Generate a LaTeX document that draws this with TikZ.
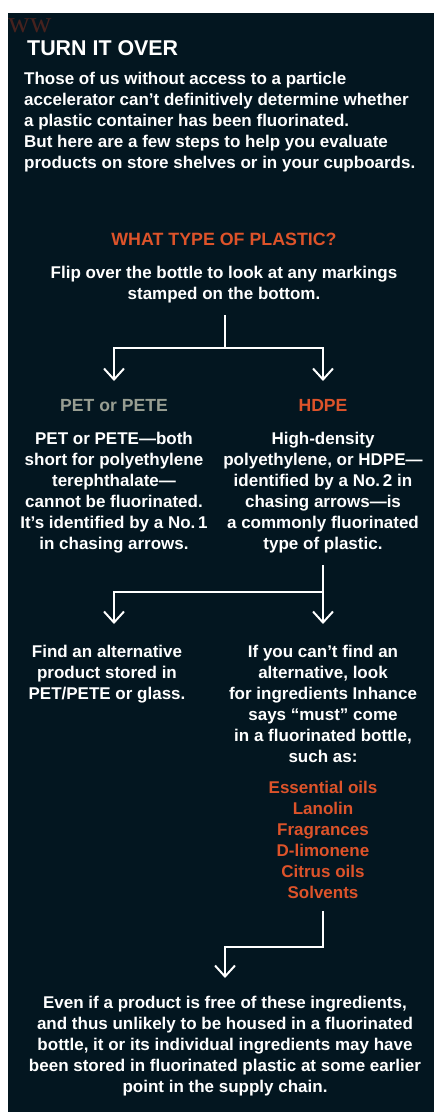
\documentclass[tikz,border=0pt]{standalone}
\usepackage{fontspec}
\setmainfont{Liberation Sans}
\newfontfamily\markfont{Liberation Serif}
\usetikzlibrary{arrows.meta,positioning}
\definecolor{bgnavy}{RGB}{3,22,32}
\definecolor{rust}{RGB}{221,83,42}
\definecolor{sage}{RGB}{152,158,146}
\definecolor{markbrown}{RGB}{70,34,30}

\begin{document}
\begin{tikzpicture}[x=1pt, y=-1pt,
    body/.style={text=white, align=center, inner sep=0pt, anchor=north, font=\bfseries\fontsize{17}{21}\selectfont},
    lead/.style={body, align=left, anchor=north west},
    head/.style={body, font=\bfseries\fontsize{17.8}{21}\selectfont},
    big/.style={body, font=\bfseries\fontsize{17.6}{21}\selectfont},
    wire/.style={draw=white, line width=2pt},
    flow/.style={wire, -{Straight Barb[length=11pt, width=20pt]}}
  ]
    \fill[white] (0,0) rectangle (434,1115);
    \fill[bgnavy] (8,13) rectangle (434,1112);
    \useasboundingbox (0,0) rectangle (434,1115);

    \node[anchor=base west, inner sep=0pt, text=markbrown, font=\markfont\fontsize{30}{30}\selectfont] (mark) at (8,33) {ww};
    \node[body, font=\bfseries\fontsize{21.4}{24}\selectfont, anchor=north west] (title) at (27,40) {TURN IT OVER};
    \node[lead] (intro) at (24,72) {Those of us without access to a particle\\accelerator can’t definitively determine whether\\a plastic container has been fluorinated.\\But here are a few steps to help you evaluate\\products on store shelves or in your cupboards.};

    \node[head, text=rust] (question) at (224,233) {WHAT TYPE OF PLASTIC?};
    \node[body] (flip) at (224,266) {Flip over the bottle to look at any markings\\stamped on the bottom.};

    \node[big, text=sage] (pet) at (114,399) {PET or PETE};
    \node[big, text=rust] (hdpe) at (323,399) {HDPE};
    \node[body] (pettext) at (114,432) {PET or PETE—both\\short for polyethylene\\terephthalate—\\cannot be fluorinated.\\It’s identified by a No.\,1\\in chasing arrows.};
    \node[body] (hdpetext) at (323,432) {High-density\\polyethylene, or HDPE—\\identified by a No.\,2 in\\chasing arrows—is\\a commonly fluorinated\\type of plastic.};

    \node[body] (find) at (107,645) {Find an alternative\\product stored in\\PET/PETE or glass.};
    \node[body] (lookfor) at (323,645) {If you can’t find an\\alternative, look\\for ingredients Inhance\\says “must” come\\in a fluorinated bottle,\\such as:};
    \node[body, text=rust] (oils) at (323,781) {Essential oils\\Lanolin\\Fragrances\\D-limonene\\Citrus oils\\Solvents};

    \node[body] (final) at (225,996) {Even if a product is free of these ingredients,\\and thus unlikely to be housed in a fluorinated\\bottle, it or its individual ingredients may have\\been stored in fluorinated plastic at some earlier\\point in the supply chain.};

    % first split
    \coordinate (fork1) at (225,348);
    \draw[wire] (flip.south -| fork1) ++(0,12) -- (fork1);
    \draw[flow] (fork1) -| ([yshift=18pt]pet.north);
    \draw[flow] (fork1) -| ([yshift=18pt]hdpe.north);
    % second split
    \coordinate (fork2) at (323,592);
    \draw[flow] (hdpetext.south) ++(0,12) -- ([yshift=21pt]lookfor.north);
    \draw[flow] (fork2) -| ([xshift=7pt, yshift=21pt]find.north);
    % last step
    \coordinate (fork3) at (225,947);
    \draw[flow] (oils.south) ++(0,12) |- (fork3) -- ([yshift=18pt]final.north);
  \end{tikzpicture}
\end{document}
